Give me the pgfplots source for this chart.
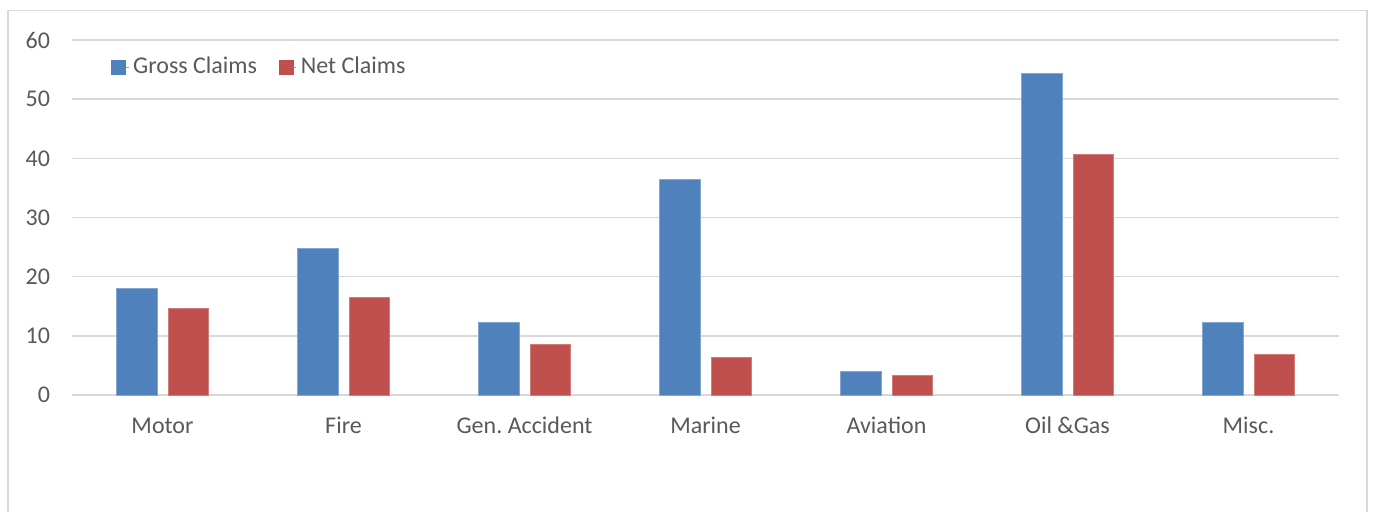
\documentclass[border=0pt]{standalone}
\usepackage{pgfplots}
\pgfplotsset{compat=1.18}
\usepackage{fontspec}
\setmainfont{Carlito}
\definecolor{grossblue}{HTML}{4F81BD}
\definecolor{netred}{HTML}{C0504D}
\definecolor{gridgray}{HTML}{D9D9D9}
\definecolor{labelgray}{HTML}{595959}

% claims by line of business
\pgfplotstableread{
x gross net
0 18.0 14.6
1 24.8 16.5
2 12.2 8.6
3 36.4 6.4
4 4.0 3.3
5 54.4 40.6
6 12.2 6.9
}\claims

\begin{document}
\begin{tikzpicture}
\useasboundingbox (0,0) rectangle (687pt,255.5pt);
% chart area frame (open at the bottom)
\begin{scope}
\clip (0,0) rectangle (687pt,255.5pt);
\draw[gridgray, line width=0.9pt] (4pt,-10pt) -- (4pt,250.25pt) -- (683.5pt,250.25pt) -- (683.5pt,-10pt);
\end{scope}
\begin{axis}[
  at={(36pt,58pt)}, anchor=south west,
  scale only axis, width=633.5pt, height=177.5pt,
  xmin=-0.5, xmax=6.5, ymin=0, ymax=60,
  ybar=5.5pt, bar width=20.25pt,
  xtick={0,...,6},
  xticklabels={Motor,Fire,Gen.\ Accident,Marine,Aviation,Oil \&Gas,Misc.},
  ytick={0,10,...,60},
  /pgf/number format/assume math mode=true,
  ymajorgrids, grid style={gridgray, line width=0.8pt},
  axis x line*=bottom, axis y line*=left,
  axis line style={draw=none},
  major tick length=0pt, tick style={draw=none},
  tick label style={font=\fontsize{12}{14.4}\selectfont, text=labelgray},
  yticklabel style={xshift=-7.5pt},
  xticklabel style={text height=7.9pt, text depth=2pt, yshift=-8pt},
  legend columns=2,
  legend cell align=left,
  legend style={at={(0.0308,0.924)}, anchor=west, draw=none, fill=none,
    inner sep=0pt, font=\fontsize{12}{14.4}\selectfont, text=labelgray,
    /tikz/every even column/.append style={column sep=9pt}},
]
\addplot[fill=grossblue, draw=grossblue!70!white, line width=0.4pt,
  legend image code/.code={\fill[grossblue] (0pt,-3.5pt) rectangle (7pt,3.5pt);
    \path (7pt,0pt) -- (8.5pt,0pt);}]
  table[x=x, y=gross] {\claims};
\addlegendentry{Gross Claims}
\addplot[fill=netred, draw=netred!75!white, line width=0.4pt,
  legend image code/.code={\fill[netred] (0pt,-3.5pt) rectangle (7pt,3.5pt);
    \path (7pt,0pt) -- (8.5pt,0pt);}]
  table[x=x, y=net] {\claims};
\addlegendentry{Net Claims}
\end{axis}
\end{tikzpicture}
\end{document}
